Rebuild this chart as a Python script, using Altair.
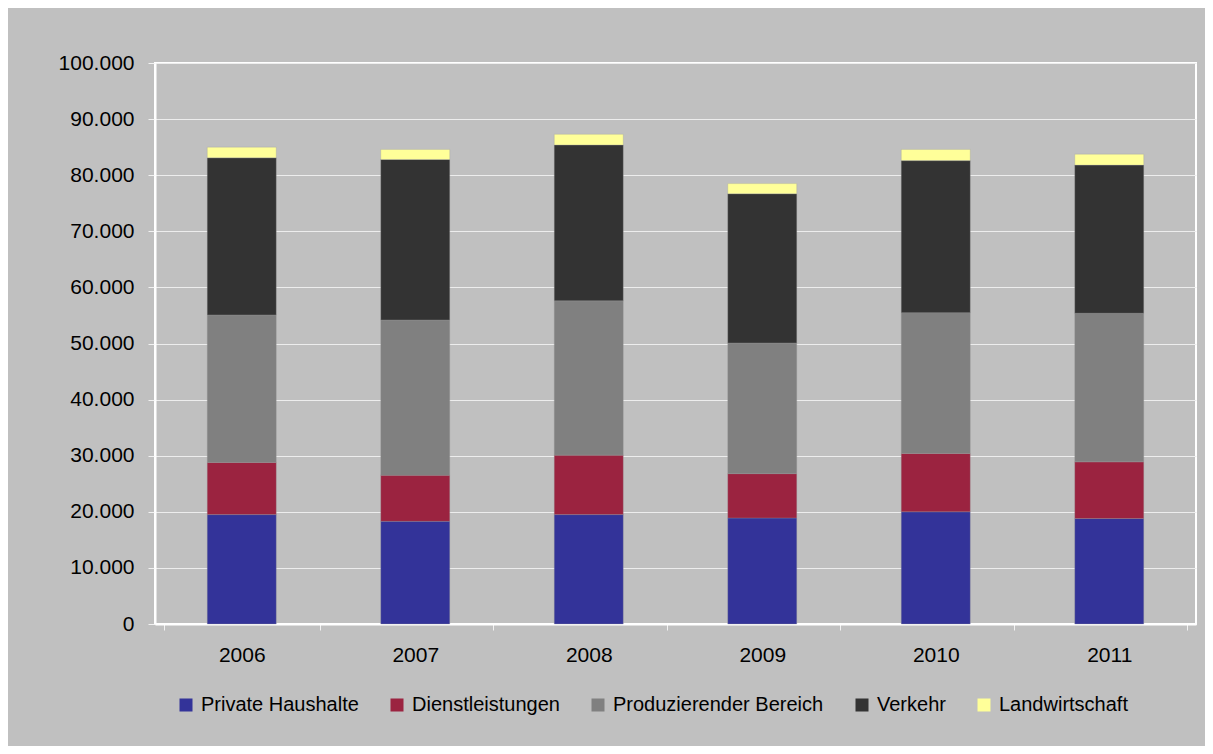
import altair as alt
import pandas as pd

years = ["2006", "2007", "2008", "2009", "2010", "2011"]
series = ["Private Haushalte", "Dienstleistungen", "Produzierender Bereich", "Verkehr", "Landwirtschaft"]
colors = ["#333399", "#9B2340", "#808080", "#333333", "#FFFF99"]

private_haushalte = [19500, 18300, 19500, 18900, 20000, 18800]
dienstleistungen = [9300, 8200, 10600, 7900, 10400, 10100]
produzierender_bereich = [26300, 27700, 27500, 23300, 25100, 26500]
verkehr = [28000, 28600, 27800, 26600, 27100, 26400]
landwirtschaft = [1900, 1800, 1900, 1800, 2000, 1950]

values = [private_haushalte, dienstleistungen, produzierender_bereich, verkehr, landwirtschaft]
rows = []
for si, (name, vals) in enumerate(zip(series, values)):
    for y, v in zip(years, vals):
        rows.append({"Jahr": y, "Bereich": name, "Wert": v, "order": si})
df = pd.DataFrame(rows)

FONT = "Liberation Sans"

chart = alt.Chart(df).mark_bar(size=69, stroke="#9a9a9a", strokeWidth=0.5, strokeOpacity=0.6).encode(
    x=alt.X("Jahr:N", sort=years, title=None,
            axis=alt.Axis(labelAngle=0, tickBand="extent", tickSize=6, tickColor="#F2F2F2",
                          domainColor="#FFFFFF", domainWidth=2, labelPadding=14,
                          labelFontSize=21, labelColor="#000000", labelFont=FONT)),
    y=alt.Y("Wert:Q", stack="zero", title=None,
            scale=alt.Scale(domain=[0, 100000], nice=False),
            axis=alt.Axis(values=list(range(0, 100001, 10000)),
                          labelExpr="replace(format(datum.value, ','), ',', '.')",
                          tickSize=7, tickColor="#F2F2F2", domainColor="#FFFFFF", domainWidth=2,
                          gridColor="#EDEDED", gridWidth=1, labelPadding=14,
                          labelFontSize=21, labelColor="#000000", labelFont=FONT)),
    color=alt.Color("Bereich:N", scale=alt.Scale(domain=series, range=colors),
                    legend=alt.Legend(title=None, orient="none", direction="horizontal",
                                      legendX=21, legendY=632, symbolType="square",
                                      symbolSize=169, symbolStrokeWidth=0, labelFontSize=20,
                                      labelFont=FONT, labelColor="#000000", columnPadding=28,
                                      labelOffset=5, labelLimit=400)),
    order=alt.Order("order:Q", sort="ascending"),
).properties(
    width=1041, height=561,
    autosize=alt.AutoSizeParams(type="none"),
    padding={"left": 147, "top": 55, "right": 9, "bottom": 122},
    background="#C0C0C0",
).configure_view(stroke="#FFFFFF", strokeWidth=2, fill="#C0C0C0")

chart.save("out.html", embed_options={"renderer": "svg", "actions": False})
